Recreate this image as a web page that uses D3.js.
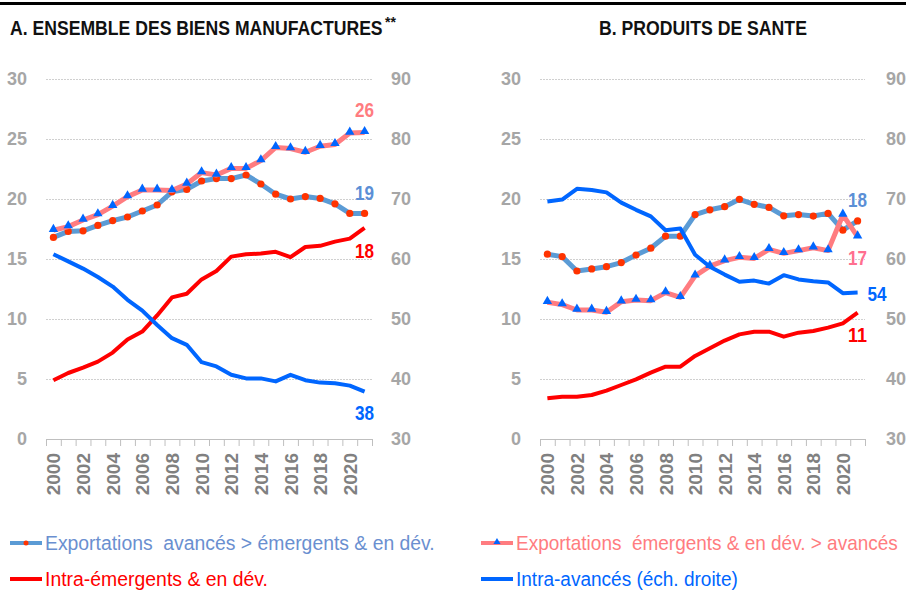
<!DOCTYPE html>
<html>
<head>
<meta charset="utf-8">
<script src="https://cdn.jsdelivr.net/npm/d3@7"></script>
<style>
  body { margin: 0; background: #fff; }
  svg { display: block; }
</style>
</head>
<body>
<script>
// categories
const years = [2000, 2001, 2002, 2003, 2004, 2005, 2006, 2007, 2008, 2009, 2010,
  2011, 2012, 2013, 2014, 2015, 2016, 2017, 2018, 2019, 2020, 2021];
const yearLabels = [2000, 2002, 2004, 2006, 2008, 2010, 2012, 2014, 2016, 2018, 2020];
const leftTicks = [0, 5, 10, 15, 20, 25, 30];
const rightTicks = [30, 40, 50, 60, 70, 80, 90];

// A. ensemble des biens manufactures
const aExpAvEm = [16.8, 17.3, 17.35, 17.8, 18.2, 18.5, 19.0, 19.5, 20.6, 20.8, 21.5,
  21.7, 21.7, 22.0, 21.25, 20.4, 20.0, 20.2, 20.05, 19.6, 18.8, 18.8];
const aExpEmAv = [17.4, 17.7, 18.25, 18.7, 19.4, 20.2, 20.75, 20.75, 20.7, 21.25, 22.2,
  22.0, 22.55, 22.55, 23.2, 24.3, 24.2, 23.9, 24.4, 24.55, 25.5, 25.55];
const aIntraEm = [4.9, 5.5, 5.95, 6.45, 7.2, 8.3, 8.95, 10.3, 11.8, 12.1, 13.3,
  14.0, 15.2, 15.4, 15.45, 15.6, 15.15, 16.0, 16.1, 16.45, 16.7, 17.6];
const aIntraAv = [60.8, 59.6, 58.4, 57.0, 55.4, 53.2, 51.4, 49.0, 46.8, 45.7, 42.8,
  42.1, 40.7, 40.1, 40.1, 39.6, 40.7, 39.8, 39.4, 39.3, 38.9, 37.9];
const aEndLabels = ["19", "26", "18", "38"];

// B. produits de sante
const bExpAvEm = [15.4, 15.2, 14.0, 14.17, 14.36, 14.7, 15.33, 15.9, 16.9, 16.9, 18.7,
  19.1, 19.36, 19.97, 19.56, 19.3, 18.6, 18.7, 18.58, 18.8, 17.4, 18.17];
const bExpEmAv = [11.4, 11.2, 10.75, 10.75, 10.56, 11.44, 11.58, 11.53, 12.2, 11.8, 13.6,
  14.4, 14.86, 15.14, 15.05, 15.8, 15.47, 15.7, 15.94, 15.7, 18.67, 16.86];
const bIntraEm = [3.39, 3.53, 3.53, 3.67, 4.03, 4.5, 4.97, 5.53, 6.03, 6.03, 6.92,
  7.56, 8.2, 8.72, 8.94, 8.94, 8.53, 8.86, 9.0, 9.28, 9.64, 10.53];
const bIntraAv = [69.6, 69.9, 71.7, 71.5, 71.1, 69.4, 68.2, 67.1, 64.8, 65.1, 60.7,
  58.7, 57.4, 56.2, 56.4, 55.9, 57.3, 56.6, 56.3, 56.1, 54.3, 54.4];
const bEndLabels = ["18", "17", "11", "54"];

const C = {
  steel: "#5b9bd5",
  dot: "#ff3300",
  pink: "#ff7c80",
  tri: "#0066ff",
  red: "#ff0000",
  blue: "#0066ff",
  tick: "#a6a6a6",
  xlab: "#808080",
  grid: "#d0d0d0"
};
const sans = "'Liberation Sans',Arial,sans-serif";

const W = 906, H = 592;
const svg = d3.select("body").append("svg").attr("width", W).attr("height", H);

// squeeze a text horizontally so it spans `len` px (the source uses a condensed font)
function fit(sel, x, y, len) {
  const w = sel.node().getComputedTextLength();
  sel.attr("transform", `translate(${x},${y}) scale(${len / w},1)`);
  return sel;
}

// rule cut from the top of the page
svg.append("rect").attr("x", 0).attr("y", 2).attr("width", W).attr("height", 3).attr("fill", "#000");

const yTop = 79, yBottom = 439;

function drawPanel(p) {
  const g = svg.append("g");
  const x = d3.scaleBand().domain(years).range([p.x0, p.x1]);
  const cx = d => x(d) + x.bandwidth() / 2;
  const yL = d3.scaleLinear().domain([0, 30]).range([yBottom, yTop]);
  const yR = d3.scaleLinear().domain([30, 90]).range([yBottom, yTop]);

  // gridlines
  g.append("g")
    .attr("transform", `translate(${p.x0},0)`)
    .call(d3.axisLeft(yL).tickValues(leftTicks.slice(1)).tickSize(-(p.x1 - p.x0)).tickFormat(""))
    .call(s => s.select(".domain").remove())
    .call(s => s.selectAll("line").attr("stroke", C.grid).attr("stroke-dasharray", "2,1"));

  // left axis labels
  g.append("g")
    .attr("transform", `translate(${p.x0 - 19},0)`)
    .call(d3.axisLeft(yL).tickValues(leftTicks).tickSize(0).tickPadding(0))
    .call(s => s.select(".domain").remove())
    .call(s => s.selectAll("text").attr("fill", C.tick).attr("font-family", sans)
      .attr("font-weight", "bold").attr("font-size", 18));

  // right axis labels
  g.append("g")
    .attr("transform", `translate(${p.x1 + p.rOff},0)`)
    .call(d3.axisRight(yR).tickValues(rightTicks).tickSize(0).tickPadding(0))
    .call(s => s.select(".domain").remove())
    .call(s => s.selectAll("text").attr("fill", C.tick).attr("font-family", sans)
      .attr("font-weight", "bold").attr("font-size", 18));

  // x axis with ticks on band edges
  const xe = d3.scaleLinear().domain([1999.5, 2021.5]).range([p.x0, p.x1]);
  g.append("g")
    .attr("transform", `translate(0,${yBottom})`)
    .call(d3.axisBottom(xe).tickValues(d3.range(1999.5, 2022, 1)).tickSize(7).tickFormat(""))
    .call(s => s.selectAll("line, path").attr("stroke", "#bfbfbf"));

  g.selectAll(".yl").data(yearLabels).join("text")
    .attr("transform", d => `translate(${cx(d) + 7},453) rotate(-90)`)
    .attr("text-anchor", "end")
    .attr("font-family", sans).attr("font-weight", "bold").attr("font-size", 19)
    .attr("fill", C.xlab)
    .text(d => d);

  // series
  p.series.forEach(s => {
    const y = s.axis === "R" ? yR : yL;
    const line = d3.line().x((d, i) => cx(years[i])).y(d => y(d));
    g.append("path").datum(s.values)
      .attr("d", line).attr("fill", "none")
      .attr("stroke", s.color).attr("stroke-width", s.width)
      .attr("stroke-linejoin", "round");
    if (s.marker === "dot") {
      g.selectAll(null).data(s.values).join("circle")
        .attr("cx", (d, i) => cx(years[i])).attr("cy", d => y(d))
        .attr("r", 3.6).attr("fill", C.dot);
    } else if (s.marker === "tri") {
      g.selectAll(null).data(s.values).join("path")
        .attr("d", d3.symbol(d3.symbolTriangle).size(38))
        .attr("transform", (d, i) => `translate(${cx(years[i])},${y(d) - 1})`)
        .attr("fill", C.tri);
    }
    const last = s.values[s.values.length - 1];
    const lab = g.append("text")
      .attr("text-anchor", s.lab.anchor || "middle")
      .attr("font-family", sans).attr("font-weight", "bold").attr("font-size", 21)
      .attr("fill", s.lab.color)
      .text(s.lab.text);
    fit(lab, cx(years[years.length - 1]) + s.lab.dx, y(last) + s.lab.dy, 19);
  });

  // title
  const t = g.append("text")
    .attr("font-family", sans).attr("font-weight", "bold").attr("font-size", 20)
    .attr("fill", "#111")
    .text(p.title.text);
  fit(t, p.title.x, 35, p.title.len);
  if (p.title.sup) {
    g.append("text")
      .attr("x", p.title.x + p.title.len + 2).attr("y", 27)
      .attr("font-family", sans).attr("font-weight", "bold").attr("font-size", 14)
      .attr("fill", "#111")
      .text(p.title.sup);
  }
}

drawPanel({
  x0: 46, x1: 372, rOff: 19,
  title: { text: "A. ENSEMBLE DES BIENS MANUFACTURES", sup: "**", x: 10, len: 373 },
  series: [
    { values: aExpAvEm, color: C.steel, width: 5, marker: "dot", axis: "L",
      lab: { text: aEndLabels[0], color: "#5b8fd6", dx: 0, dy: -13 } },
    { values: aExpEmAv, color: C.pink, width: 5, marker: "tri", axis: "L",
      lab: { text: aEndLabels[1], color: C.pink, dx: 0, dy: -15 } },
    { values: aIntraEm, color: C.red, width: 4, axis: "L",
      lab: { text: aEndLabels[2], color: C.red, dx: 0, dy: 30 } },
    { values: aIntraAv, color: C.blue, width: 4, axis: "R",
      lab: { text: aEndLabels[3], color: C.blue, dx: 0, dy: 28 } }
  ]
});

drawPanel({
  x0: 540, x1: 865, rOff: 21,
  title: { text: "B. PRODUITS DE SANTE", x: 599, len: 208 },
  series: [
    { values: bExpAvEm, color: C.steel, width: 5, marker: "dot", axis: "L",
      lab: { text: bEndLabels[0], color: "#5b8fd6", dx: 0, dy: -14 } },
    { values: bExpEmAv, color: C.pink, width: 5, marker: "tri", axis: "L",
      lab: { text: bEndLabels[1], color: "#ff6f8f", dx: 0, dy: 28 } },
    { values: bIntraEm, color: C.red, width: 4, axis: "L",
      lab: { text: bEndLabels[2], color: C.red, dx: 0, dy: 29 } },
    { values: bIntraAv, color: C.blue, width: 4, axis: "R",
      lab: { text: bEndLabels[3], color: C.blue, dx: 10, dy: 8, anchor: "start" } }
  ]
});

// legend
const legend = [
  { text: "Exportations  avancés > émergents & en dév.", color: "#6a8fd0", line: C.steel, marker: "dot", x: 10, y: 543, len: 390 },
  { text: "Intra-émergents & en dév.", color: C.red, line: C.red, x: 10, y: 579, len: 223 },
  { text: "Exportations  émergents & en dév. > avancés", color: C.pink, line: C.pink, marker: "tri", x: 481, y: 543, len: 382 },
  { text: "Intra-avancés (éch. droite)", color: C.blue, line: C.blue, x: 481, y: 579, len: 222 }
];
const lg = svg.append("g");
legend.forEach(l => {
  lg.append("line")
    .attr("x1", l.x).attr("x2", l.x + 32).attr("y1", l.y).attr("y2", l.y)
    .attr("stroke", l.line).attr("stroke-width", 4);
  if (l.marker === "dot") {
    lg.append("circle").attr("cx", l.x + 16).attr("cy", l.y).attr("r", 2.5).attr("fill", C.dot);
  } else if (l.marker === "tri") {
    lg.append("path").attr("d", d3.symbol(d3.symbolTriangle).size(22))
      .attr("transform", `translate(${l.x + 16},${l.y - 1})`).attr("fill", C.tri);
  }
  const t = lg.append("text")
    .attr("font-family", sans).attr("font-size", 21)
    .style("white-space", "pre")
    .attr("fill", l.color)
    .text(l.text);
  fit(t, l.x + 35, l.y + 7, l.len);
});
</script>
</body>
</html>
